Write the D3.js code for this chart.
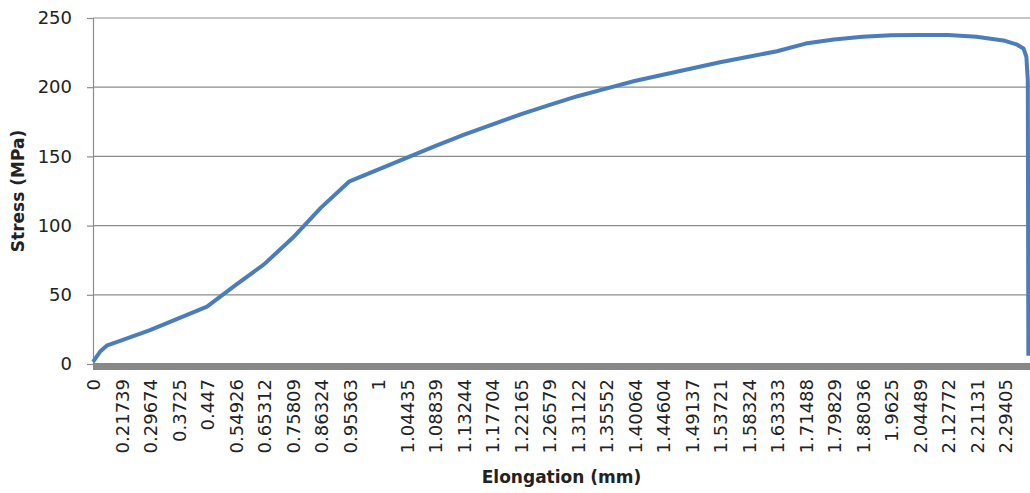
<!DOCTYPE html>
<html>
<head>
<meta charset="utf-8">
<script src="https://cdn.jsdelivr.net/npm/d3@7"></script>
<style>
  html, body { margin: 0; padding: 0; background: #fff; }
  svg { display: block; }
  text { font-family: "DejaVu Sans", sans-serif; fill: #222; }
</style>
</head>
<body>
<svg id="chart" width="1030" height="493"></svg>
<script>
// Category labels shown on the elongation axis (one every labelInterval records)
const elongationLabels = [
  "0", "0.21739", "0.29674", "0.3725", "0.447", "0.54926", "0.65312",
  "0.75809", "0.86324", "0.95363", "1", "1.04435", "1.08839", "1.13244",
  "1.17704", "1.22165", "1.26579", "1.31122", "1.35552", "1.40064",
  "1.44604", "1.49137", "1.53721", "1.58324", "1.63333", "1.71488",
  "1.79829", "1.88036", "1.9625", "2.04489", "2.12772", "2.21131", "2.29405"
];
const labelInterval = 100;

// Test record number and measured stress (MPa)
const recordIndex = [
  0, 25, 50, 100, 200, 300, 400, 500, 600, 700, 800, 900, 1000, 1100,
  1200, 1300, 1400, 1500, 1600, 1700, 1800, 1900, 2000, 2100, 2200, 2300,
  2400, 2500, 2600, 2700, 2800, 2900, 3000, 3100, 3200, 3240, 3265, 3275,
  3280, 3282
];
const stressMPa = [
  1.5, 9, 13.5, 17, 24.5, 33, 41.5, 57, 72, 91, 113, 132, 140.5, 149,
  157.4, 165.5, 173, 180.4, 187, 193.5, 199, 204.5, 209, 213.5, 218, 222,
  226, 231.5, 234.5, 236.5, 237.5, 237.7, 237.7, 236.5, 233.5, 231, 228, 222,
  205, 6
];

const yTicks = [0, 50, 100, 150, 200, 250];

const svg = d3.select("#chart");
const plot = { left: 93, right: 1030, top: 18, bottom: 364 };
const lastLabelRecord = (elongationLabels.length - 1) * labelInterval;

const x = d3.scaleLinear().domain([0, lastLabelRecord]).range([plot.left, 1005]);
const y = d3.scaleLinear().domain([0, 250]).range([plot.bottom, plot.top]);

// Horizontal gridlines
svg.append("g")
  .selectAll("line")
  .data(yTicks.filter(d => d > 0))
  .join("line")
  .attr("x1", plot.left).attr("x2", plot.right)
  .attr("y1", d => y(d)).attr("y2", d => y(d))
  .attr("stroke", "#8c8c8c").attr("stroke-width", 1.2);

// Vertical value axis with outside ticks
const yAxis = svg.append("g")
  .attr("transform", `translate(${plot.left},0)`)
  .call(d3.axisLeft(y).tickValues(yTicks).tickSize(6).tickPadding(15));
yAxis.select(".domain").attr("stroke", "#8c8c8c").attr("stroke-width", 1.2);
yAxis.selectAll(".tick line").attr("stroke", "#8c8c8c").attr("stroke-width", 1.2);
yAxis.selectAll(".tick text")
  .style("font-size", "18px").attr("fill", "#222")
  .style("font-family", "DejaVu Sans, sans-serif");

// Thick category axis line
svg.append("rect")
  .attr("x", plot.left).attr("y", y(0) - 1)
  .attr("width", plot.right - plot.left).attr("height", 7)
  .attr("fill", "#888");

// Category labels, rotated
const labelRecords = elongationLabels.map((_, i) => i * labelInterval);
const xAxis = svg.append("g")
  .attr("transform", `translate(0,${y(0) + 15})`)
  .call(d3.axisBottom(x).tickValues(labelRecords)
    .tickFormat((d, i) => elongationLabels[i]).tickSize(0));
xAxis.select(".domain").remove();
xAxis.selectAll(".tick text")
  .attr("transform", "rotate(-90)")
  .attr("text-anchor", "end")
  .attr("x", 0).attr("y", 0).attr("dy", "0.38em")
  .style("font-size", "18px").attr("fill", "#222")
  .style("font-family", "DejaVu Sans, sans-serif");

// Stress-elongation curve
const points = recordIndex.map((r, i) => [r, stressMPa[i]]);
svg.append("path")
  .datum(points)
  .attr("fill", "none")
  .attr("stroke", "#4a7dba")
  .attr("stroke-width", 4)
  .attr("stroke-linejoin", "round")
  .attr("d", d3.line().x(d => x(d[0])).y(d => y(d[1])));

// Axis titles
svg.append("text")
  .attr("transform", `translate(24,${(plot.top + plot.bottom) / 2}) rotate(-90)`)
  .attr("text-anchor", "middle")
  .style("font-size", "17px").style("font-weight", "bold")
  .text("Stress (MPa)");

svg.append("text")
  .attr("x", (plot.left + plot.right) / 2).attr("y", 483)
  .attr("text-anchor", "middle")
  .style("font-size", "17px").style("font-weight", "bold")
  .text("Elongation (mm)");
</script>
</body>
</html>
